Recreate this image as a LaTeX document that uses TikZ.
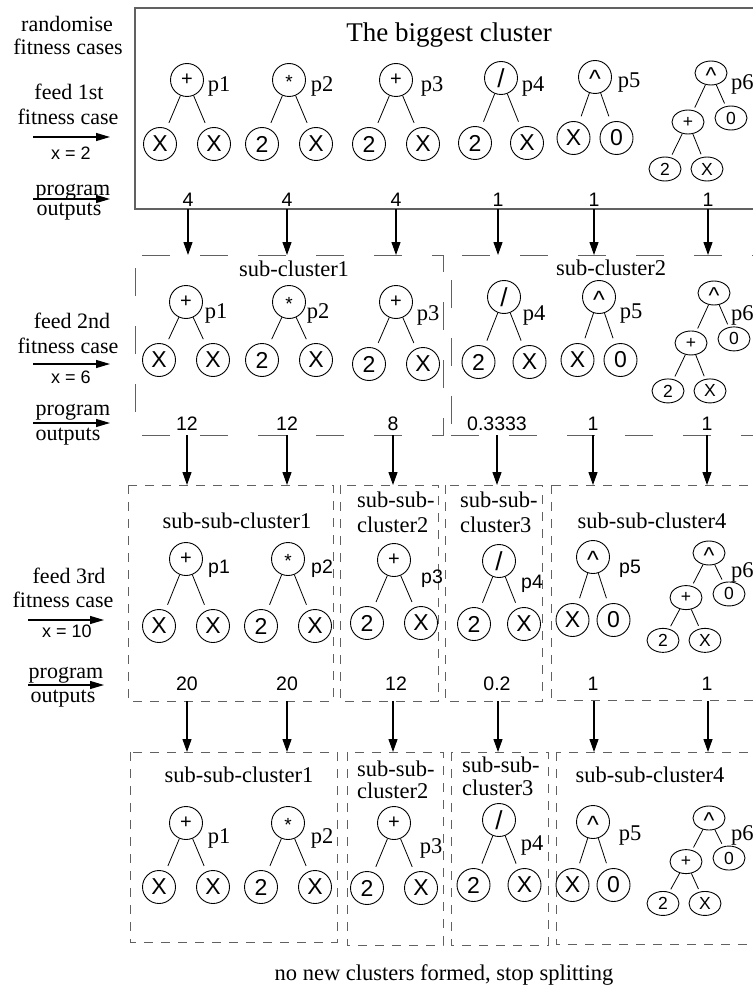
\documentclass[tikz,border=0pt]{standalone}
\usepackage{fontspec}
\setmainfont{Liberation Serif}
\newfontfamily\hv{Liberation Sans}
\usetikzlibrary{arrows.meta,shapes.geometric}
\definecolor{boxgray}{gray}{0.38}
\newcommand\cen[2]{\smash{\raisebox{#1}{#2}}}
\newcommand\twotree[8]{%
  \node[rootc] (#1r) at (#2,#3) {#6};
  \node[leafc] (#1a) at (#2-#4,#3+#5) {#7};
  \node[leafc] (#1b) at (#2+#4,#3+#5) {#8};
  \draw[edge] (#1r) -- (#1a);
  \draw[edge] (#1r) -- (#1b);
}
\newcommand\sixtree[4]{%
  \node[ellc] (#1r) at (#2,#3) {\cen{-10.5pt}{\fontsize{23}{23}\selectfont\textasciicircum}};
  \node[ellc] (#1p) at (#2-23,#3+49*#4) {+};
  \node[ellc] (#1z) at (#2+20,#3+45*#4) {0};
  \node[ellc] (#1a) at (#2-46,#3+96*#4) {2};
  \node[ellc] (#1b) at (#2-4,#3+96*#4) {X};
  \draw[edge6] (#1r) -- (#1p);
  \draw[edge6] (#1r) -- (#1z);
  \draw[edge6] (#1p) -- (#1a);
  \draw[edge6] (#1p) -- (#1b);
}
\newcommand\crtsym{\cen{-11pt}{\fontsize{25}{25}\selectfont\textasciicircum}}
\newcommand\slsym{{\fontsize{26}{26}\selectfont /}}
\newcommand\astsym{\cen{-8.5pt}{\fontsize{19}{19}\selectfont *}}
\begin{document}
\begin{tikzpicture}[x=1pt,y=-1pt,
  rootc/.style={draw, circle, line width=0.9pt, minimum size=33pt, inner sep=0pt,
    font=\hv\fontsize{20}{20}\selectfont},
  leafc/.style={draw, circle, line width=0.9pt, minimum size=33pt, inner sep=0pt,
    font=\hv\fontsize{23}{23}\selectfont},
  ellc/.style={draw, ellipse, line width=0.9pt, minimum width=32pt, minimum height=24pt,
    inner sep=0pt, font=\hv\fontsize{17.5}{17.5}\selectfont},
  edge/.style={line width=0.8pt, shorten >=6pt},
  edge6/.style={line width=0.8pt, shorten >=3pt},
  serif/.style={inner sep=0pt, anchor=base, font=\fontsize{22.5}{24}\selectfont},
  lsrf/.style={inner sep=0pt, anchor=base, font=\fontsize{22}{24}\selectfont},
  titl/.style={inner sep=0pt, anchor=base, font=\fontsize{27}{30}\selectfont},
  psans/.style={inner sep=0pt, anchor=base, font=\hv\fontsize{19.5}{20}\selectfont},
  outnum/.style={inner sep=0pt, anchor=base, font=\hv\fontsize{19.5}{20}\selectfont},
  xval/.style={inner sep=0pt, anchor=base, font=\hv\fontsize{18}{20}\selectfont},
  arr/.style={-{Triangle[length=13pt,width=9pt]}, line width=1.2pt},
  larr/.style={-{Triangle[length=14pt,width=8pt]}, line width=1.1pt},
  longdash/.style={draw=boxgray, line width=1pt, dash pattern=on 28pt off 30pt},
  shortdash/.style={draw=boxgray, line width=1pt, dash pattern=on 9pt off 8pt},
]
\useasboundingbox (0,0) rectangle (752,987);

% ---------- left labels ----------
\node[lsrf] (l1a) at (67,32) {randomise};
\node[lsrf] (l1b) at (68,55) {fitness cases};
\node[lsrf] (l1c) at (69,100) {feed 1st};
\node[lsrf] (l1d) at (68,125) {fitness case};
\coordinate (l1s) at (33,137); \coordinate (l1e) at (110,137);
\draw[larr] (l1s) -- (l1e);
\node[xval] (l1x) at (71,160) {x = 2};
\node[lsrf] (l1f) at (73,195) {program};
\coordinate (l1t) at (33,199); \coordinate (l1u) at (110,199);
\draw[larr] (l1t) -- (l1u);
\node[lsrf] (l1g) at (69,215) {outputs};

\node[lsrf] (l2c) at (72,328) {feed 2nd};
\node[lsrf] (l2d) at (68,353) {fitness case};
\coordinate (l2s) at (33,364); \coordinate (l2e) at (110,364);
\draw[larr] (l2s) -- (l2e);
\node[xval] (l2x) at (71,383) {x = 6};
\node[lsrf] (l2f) at (73,415) {program};
\coordinate (l2t) at (33,423); \coordinate (l2u) at (110,423);
\draw[larr] (l2t) -- (l2u);
\node[lsrf] (l2g) at (68,440) {outputs};

\node[lsrf] (l3c) at (69,583) {feed 3rd};
\node[lsrf] (l3d) at (63,607) {fitness case};
\coordinate (l3s) at (28,620); \coordinate (l3e) at (104,620);
\draw[larr] (l3s) -- (l3e);
\node[xval] (l3x) at (67,637) {x = 10};
\node[lsrf] (l3f) at (66,678) {program};
\coordinate (l3t) at (28,685); \coordinate (l3u) at (104,685);
\draw[larr] (l3t) -- (l3u);
\node[lsrf] (l3g) at (63,702) {outputs};

% ---------- level 1 ----------
\draw[boxgray, line width=1.2pt] (135,8) rectangle (790,209);
\node[titl] (title) at (449,42) {The biggest cluster};
\twotree{a1}{187}{80}{27}{64}{+}{X}{X}
\twotree{a2}{289}{80}{27}{64}{\astsym}{2}{X}
\twotree{a3}{396}{80}{27}{64}{+}{2}{X}
\twotree{a4}{501}{78}{26}{65}{\slsym}{2}{X}
\twotree{a5}{595}{77}{21.5}{61}{\crtsym}{X}{0}
\sixtree{a6}{711}{73}{1}
\node[serif] (ap1) at (219,92) {p1};
\node[serif] (ap2) at (322,92) {p2};
\node[serif] (ap3) at (432,92) {p3};
\node[serif] (ap4) at (533,92) {p4};
\node[serif] (ap5) at (629,88) {p5};
\node[serif, anchor=base west] (ap6) at (731,90) {p6};
\node[outnum] (ao1) at (188,207) {4};
\node[outnum] (ao2) at (287,207) {4};
\node[outnum] (ao3) at (396,207) {4};
\node[outnum] (ao4) at (498,207) {1};
\node[outnum] (ao5) at (594,207) {1};
\node[outnum] (ao6) at (708,207) {1};
\foreach \n/\x in {1/188,2/287,3/396,4/498,5/594,6/708}{
  \coordinate (au\n) at (\x,209); \coordinate (ad\n) at (\x,255);
  \draw[arr] (au\n) -- (ad\n);}

% ---------- level 2 ----------
\draw[longdash, dash phase=51pt] (135,255) -- (443,255) -- (443,435) -- (135,435) -- cycle;
\draw[longdash, dash phase=47pt] (451,255) -- (800,255) (451,435) -- (451,255);
\draw[longdash, dash phase=0pt] (451,435) -- (800,435);
\node[serif] (sc1) at (294,276) {sub-cluster1};
\node[serif] (sc2) at (611,275) {sub-cluster2};
\twotree{b1}{186}{302}{27}{58}{+}{X}{X}
\twotree{b2}{289}{302}{27}{58}{\astsym}{2}{X}
\twotree{b3}{396}{302}{27}{62}{+}{2}{X}
\twotree{b4}{504}{297}{25.5}{65}{\slsym}{2}{X}
\twotree{b5}{599}{297}{21.5}{63}{\crtsym}{X}{0}
\sixtree{b6}{714}{293}{1.02}
\node[serif] (bp1) at (216,318) {p1};
\node[serif] (bp2) at (318,318) {p2};
\node[serif] (bp3) at (428,320) {p3};
\node[serif] (bp4) at (534,320) {p4};
\node[serif] (bp5) at (631,318) {p5};
\node[serif, anchor=base west] (bp6) at (731,320) {p6};
\node[outnum] (bo1) at (187,430) {12};
\node[outnum] (bo2) at (287,430) {12};
\node[outnum] (bo3) at (393,430) {8};
\node[outnum] (bo4) at (497,430) {0.3333};
\node[outnum] (bo5) at (593,430) {1};
\node[outnum] (bo6) at (707,430) {1};
\foreach \n/\x in {1/187,2/287,3/393,4/497,5/593,6/707}{
  \coordinate (bu\n) at (\x,435); \coordinate (bd\n) at (\x,485);
  \draw[arr] (bu\n) -- (bd\n);}

% ---------- level 3 ----------
\draw[shortdash] (128,485) rectangle (333,701);
\draw[shortdash] (340,485) rectangle (438,701);
\draw[shortdash] (445,485) rectangle (542,701);
\draw[shortdash] (551,485) rectangle (800,700);
\node[serif] (cc1) at (237,528) {sub-sub-cluster1};
\node[serif, anchor=base west] (cc2a) at (357,507) {sub-sub-};
\node[serif, anchor=base west] (cc2b) at (357,532) {cluster2};
\node[serif, anchor=base west] (cc3a) at (460,507) {sub-sub-};
\node[serif, anchor=base west] (cc3b) at (460,532) {cluster3};
\node[serif] (cc4) at (652,528) {sub-sub-cluster4};
\twotree{c1}{186}{559}{27}{67}{+}{X}{X}
\twotree{c2}{288}{559}{27}{67}{\astsym}{2}{X}
\twotree{c3}{394}{560}{27}{63}{+}{2}{X}
\twotree{c4}{499}{561}{25}{63}{\slsym}{2}{X}
\twotree{c5}{593}{557}{20.5}{63}{\crtsym}{X}{0}
\sixtree{c6}{709}{553}{0.91}
\node[psans] (cp1) at (219,573) {p1};
\node[psans] (cp2) at (322,573) {p2};
\node[psans] (cp3) at (432,583) {p3};
\node[psans] (cp4) at (532,588) {p4};
\node[psans] (cp5) at (630,573) {p5};
\node[serif, anchor=base west] (cp6) at (731,577) {p6};
\node[outnum] (co1) at (187,690) {20};
\node[outnum] (co2) at (287,690) {20};
\node[outnum] (co3) at (396,690) {12};
\node[outnum] (co4) at (497,690) {0.2};
\node[outnum] (co5) at (593,690) {1};
\node[outnum] (co6) at (707,690) {1};
\foreach \n/\x in {1/187,2/287,3/393,4/498,5/594,6/708}{
  \coordinate (cu\n) at (\x,701); \coordinate (cd\n) at (\x,752);
  \draw[arr] (cu\n) -- (cd\n);}

% ---------- level 4 ----------
\draw[shortdash] (130,752) rectangle (337,942);
\draw[shortdash] (347,752) rectangle (443,945);
\draw[shortdash] (451,752) rectangle (548,945);
\draw[shortdash] (556,752) rectangle (800,944);
\node[serif] (dc1) at (239,782) {sub-sub-cluster1};
\node[serif, anchor=base west] (dc2a) at (357,776) {sub-sub-};
\node[serif, anchor=base west] (dc2b) at (357,798) {cluster2};
\node[serif, anchor=base west] (dc3a) at (462,772) {sub-sub-};
\node[serif, anchor=base west] (dc3b) at (462,795) {cluster3};
\node[serif] (dc4) at (650,782) {sub-sub-cluster4};
\twotree{d1}{186}{823}{27}{64}{+}{X}{X}
\twotree{d2}{288}{823}{27}{64}{\astsym}{2}{X}
\twotree{d3}{394}{823}{27}{65}{+}{2}{X}
\twotree{d4}{499}{820}{25.5}{65}{\slsym}{2}{X}
\twotree{d5}{593}{822}{20.5}{63}{\crtsym}{X}{0}
\sixtree{d6}{709}{818}{0.89}
\node[serif] (dp1) at (219,843) {p1};
\node[serif] (dp2) at (322,843) {p2};
\node[serif] (dp3) at (431,853) {p3};
\node[serif] (dp4) at (532,850) {p4};
\node[serif] (dp5) at (630,840) {p5};
\node[serif, anchor=base west] (dp6) at (731,840) {p6};

\node[serif] (final) at (444,980) {no new clusters formed, stop splitting};
\end{tikzpicture}
\end{document}
